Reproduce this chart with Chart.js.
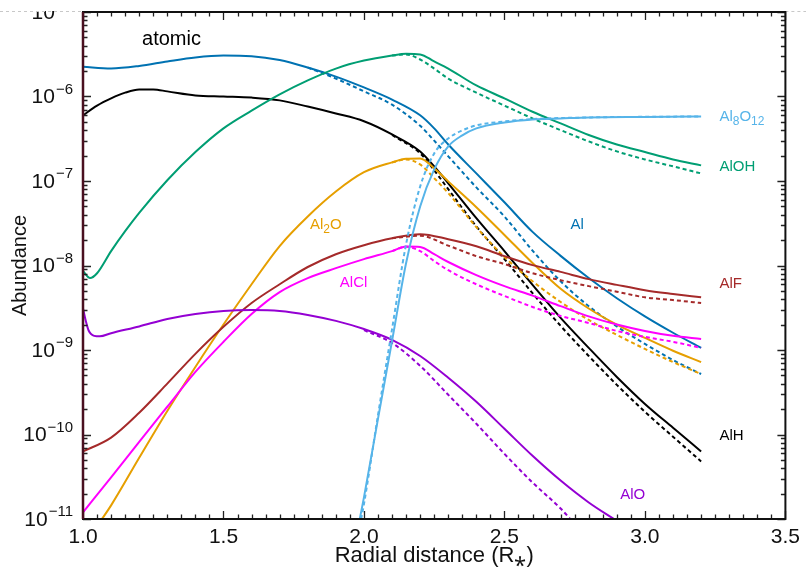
<!DOCTYPE html>
<html><head><meta charset="utf-8">
<script src="https://cdn.jsdelivr.net/npm/chart.js@4.4.0/dist/chart.umd.min.js"></script>
<style>html,body{margin:0;padding:0;background:#fff;}#wrap{width:806px;height:569px;}</style>
</head><body><div id="wrap"><canvas id="c" width="806" height="569"></canvas></div>
<script>
// ---------- data (abundance vs radial distance) ----------
const xAlSolid   = [1.0,1.1,1.2,1.3,1.4,1.5,1.6,1.7,1.8,1.9,2.0,2.1,2.2,2.25,2.3,2.4,2.5,2.6,2.7,2.8,2.9,3.0,3.1,3.2];
const alSolid    = [2.25e-6,2.15e-6,2.3e-6,2.6e-6,2.9e-6,3.05e-6,3.0e-6,2.7e-6,2.2e-6,1.72e-6,1.28e-6,9.2e-7,6.0e-7,4.2e-7,2.7e-7,1.23e-7,5.6e-8,2.5e-8,1.3e-8,7.1e-9,4.1e-9,2.5e-9,1.6e-9,1.06e-9];
const xAlDashed  = [1.8,1.9,2.0,2.1,2.2,2.25,2.3,2.4,2.5,2.6,2.7,2.8,2.9,3.0,3.1,3.2];
const alDashed   = [2.2e-6,1.63e-6,1.15e-6,8.0e-7,4.5e-7,3.0e-7,1.96e-7,8.4e-8,3.8e-8,1.5e-8,6.5e-9,3.3e-9,1.9e-9,1.18e-9,7.6e-10,5.2e-10];

const xAlHSolid  = [1.0,1.05,1.1,1.15,1.2,1.25,1.3,1.4,1.5,1.6,1.7,1.8,1.9,2.0,2.1,2.2,2.25,2.3,2.4,2.5,2.6,2.7,2.8,2.9,3.0,3.1,3.2];
const alhSolid   = [5.97e-7,7.8e-7,9.5e-7,1.11e-6,1.21e-6,1.21e-6,1.15e-6,1.03e-6,1.0e-6,9.7e-7,9.0e-7,7.6e-7,6.3e-7,5.1e-7,3.56e-7,2.24e-7,1.49e-7,9.4e-8,3.63e-8,1.48e-8,5.9e-9,2.4e-9,1.06e-9,4.8e-10,2.3e-10,1.2e-10,6.3e-11];
const xAlHDashed = [2.1,2.2,2.25,2.3,2.4,2.5,2.6,2.7,2.8,2.9,3.0,3.1,3.2];
const alhDashed  = [3.5e-7,2.13e-7,1.34e-7,8.0e-8,2.9e-8,1.19e-8,4.7e-9,1.93e-9,8.5e-10,3.87e-10,1.86e-10,9.4e-11,4.8e-11];

const xAlOHSolid = [1.0,1.025,1.05,1.1,1.15,1.2,1.3,1.4,1.5,1.6,1.7,1.8,1.9,2.0,2.1,2.15,2.2,2.25,2.3,2.4,2.5,2.6,2.7,2.8,2.9,3.0,3.1,3.2];
const alohSolid  = [8.6e-9,7.1e-9,8.1e-9,1.48e-8,2.55e-8,4.2e-8,1.02e-7,2.2e-7,4.2e-7,6.8e-7,1.06e-6,1.55e-6,2.14e-6,2.66e-6,3.05e-6,3.2e-6,3.15e-6,2.6e-6,2.14e-6,1.35e-6,9.5e-7,6.6e-7,4.8e-7,3.5e-7,2.7e-7,2.2e-7,1.8e-7,1.53e-7];
const xAlOHDashed= [2.1,2.15,2.2,2.25,2.3,2.4,2.5,2.6,2.7,2.8,2.9,3.0,3.1,3.2];
const alohDashed = [3.05e-6,3.15e-6,2.74e-6,2.14e-6,1.63e-6,1.11e-6,7.8e-7,5.5e-7,4.0e-7,2.94e-7,2.24e-7,1.8e-7,1.49e-7,1.23e-7];

const xAl8Solid  = [1.985,2.0,2.05,2.1,2.15,2.2,2.25,2.3,2.35,2.4,2.5,2.6,2.7,2.8,3.0,3.2];
const al8Solid   = [1.0e-11,1.8e-11,1.54e-10,1.28e-9,1.07e-8,5.0e-8,1.37e-7,2.57e-7,3.47e-7,4.19e-7,4.93e-7,5.35e-7,5.5e-7,5.65e-7,5.73e-7,5.8e-7];
const xAl8Dashed = [1.99,2.0,2.05,2.1,2.15,2.2,2.25,2.3,2.35,2.4,2.5,2.6,2.8,3.0,3.2];
const al8Dashed  = [1.0e-11,1.5e-11,1.7e-10,1.77e-9,1.79e-8,8.6e-8,2.12e-7,3.19e-7,3.97e-7,4.55e-7,5.07e-7,5.4e-7,5.65e-7,5.75e-7,5.8e-7];

const xAl2OSolid = [1.06,1.1,1.2,1.3,1.4,1.5,1.6,1.7,1.8,1.9,2.0,2.1,2.15,2.2,2.25,2.3,2.4,2.5,2.6,2.7,2.8,2.9,3.0,3.1,3.2];
const al2oSolid  = [9.2e-12,1.45e-11,5.3e-11,1.9e-10,6.3e-10,2.0e-9,6.0e-9,1.7e-8,3.8e-8,7.5e-8,1.27e-7,1.66e-7,1.83e-7,1.85e-7,1.41e-7,9.9e-8,4.9e-8,2.3e-8,1.07e-8,5.3e-9,3.1e-9,2.0e-9,1.39e-9,9.8e-10,7.2e-10];
const xAl2ODashed= [2.1,2.15,2.2,2.25,2.3,2.4,2.5,2.6,2.7,2.8,2.9,3.0,3.1,3.2];
const al2oDashed = [1.66e-7,1.8e-7,1.57e-7,1.08e-7,7.2e-8,2.84e-8,1.26e-8,6.5e-9,3.7e-9,2.27e-9,1.51e-9,1.03e-9,7.2e-10,5.2e-10];

const xAlFSolid  = [1.0,1.1,1.2,1.3,1.4,1.5,1.6,1.7,1.8,1.9,2.0,2.1,2.2,2.3,2.4,2.5,2.6,2.7,2.8,2.9,3.0,3.1,3.2];
const alfSolid   = [6.3e-11,9.2e-11,1.81e-10,4.0e-10,9.0e-10,1.88e-9,3.6e-9,6.0e-9,9.6e-9,1.36e-8,1.74e-8,2.1e-8,2.35e-8,2.05e-8,1.69e-8,1.29e-8,1.01e-8,8.4e-9,6.9e-9,5.9e-9,5.1e-9,4.6e-9,4.2e-9];
const xAlFDashed = [2.1,2.2,2.3,2.4,2.5,2.6,2.7,2.8,2.9,3.0,3.1,3.2];
const alfDashed  = [2.1e-8,2.25e-8,1.72e-8,1.29e-8,1.04e-8,8.1e-9,6.7e-9,5.7e-9,4.9e-9,4.2e-9,3.9e-9,3.6e-9];

const xAlClSolid = [1.0,1.1,1.2,1.3,1.4,1.5,1.6,1.7,1.8,1.9,2.0,2.1,2.15,2.2,2.25,2.3,2.4,2.5,2.6,2.7,2.8,2.9,3.0,3.1,3.2];
const alclSolid  = [1.2e-11,3.1e-11,8.2e-11,2.13e-10,5.5e-10,1.25e-9,2.67e-9,4.85e-9,7.1e-9,9.3e-9,1.19e-8,1.48e-8,1.68e-8,1.66e-8,1.36e-8,1.1e-8,7.7e-9,5.7e-9,4.4e-9,3.3e-9,2.5e-9,2.0e-9,1.68e-9,1.47e-9,1.35e-9];
const xAlClDashed= [2.1,2.15,2.2,2.25,2.3,2.4,2.5,2.6,2.7,2.8,2.9,3.0,3.1,3.2];
const alclDashed = [1.48e-8,1.67e-8,1.48e-8,1.13e-8,8.8e-9,6.0e-9,4.36e-9,3.23e-9,2.53e-9,2.09e-9,1.68e-9,1.43e-9,1.25e-9,1.06e-9];

const xAlOSolid  = [1.0,1.01,1.02,1.04,1.06,1.1,1.2,1.3,1.4,1.5,1.6,1.7,1.8,1.9,2.0,2.1,2.2,2.3,2.4,2.5,2.6,2.7,2.8,2.9];
const aloSolid   = [3.1e-9,2.2e-9,1.7e-9,1.47e-9,1.45e-9,1.58e-9,1.9e-9,2.33e-9,2.67e-9,2.9e-9,2.97e-9,2.9e-9,2.6e-9,2.21e-9,1.77e-9,1.32e-9,8.5e-10,4.7e-10,2.44e-10,1.17e-10,5.6e-11,2.85e-11,1.57e-11,9.5e-12];
const xAlODashed = [2.0,2.1,2.2,2.3,2.4,2.5,2.6,2.7,2.74];
const aloDashed  = [1.72e-9,1.21e-9,6.5e-10,2.95e-10,1.34e-10,5.9e-11,2.7e-11,1.33e-11,9.5e-12];

// ticks
const xTickLabels    = ['1.0','1.5','2.0','2.5','3.0','3.5'];
const yTickValues    = [1e-11,1e-10,1e-9,1e-8,1e-7,1e-6,1e-5];
const yTickExponents = ['\u221211','\u221210','\u22129','\u22128','\u22127','\u22126','\u22125'];

// ---------- styling ----------
const FONT = '"Liberation Sans", Arial, Helvetica, sans-serif';
const COL = {al:'#0072B2', aloh:'#009E73', al2o:'#E69F00', al8:'#56B4E9', alh:'#000000', alf:'#A52A2A', alcl:'#FF00FF', alo:'#9400D3'};

const pts = (xs, ys) => xs.map((x, i) => ({x, y: ys[i]}));
function ds(xs, ys, color, dashed) {
  return {data: pts(xs, ys), borderColor: color, borderWidth: 2, pointRadius: 0,
          borderDash: dashed ? [4, 3] : [], cubicInterpolationMode: 'monotone', fill: false};
}

// label anchors (data coordinates)
const speciesLabels = [
  {parts: [['Al',0],['8',1],['O',0],['12',1]], x: 3.265, y: 5.8e-7, color: COL.al8},
  {parts: [['AlOH',0]], x: 3.265, y: 1.49e-7, color: COL.aloh},
  {parts: [['Al',0]], x: 2.735, y: 3.0e-8, color: COL.al},
  {parts: [['AlF',0]], x: 3.265, y: 6.0e-9, color: COL.alf},
  {parts: [['AlH',0]], x: 3.265, y: 9.7e-11, color: COL.alh},
  {parts: [['AlO',0]], x: 2.912, y: 1.95e-11, color: COL.alo},
  {parts: [['Al',0],['2',1],['O',0]], x: 1.808, y: 3.0e-8, color: COL.al2o},
  {parts: [['AlCl',0]], x: 1.914, y: 6.2e-9, color: COL.alcl}
];

const framePlugin = {
  id: 'frame',
  afterDraw(chart) {
    const {ctx, chartArea: a, scales: {x, y}} = chart;
    ctx.save();
    // y tick labels 10^n
    ctx.textBaseline = 'middle'; ctx.textAlign = 'left'; ctx.fillStyle = '#111';
    yTickValues.forEach((v, i) => {
      const py = y.getPixelForValue(v);
      ctx.font = '21px ' + FONT; const w10 = ctx.measureText('10').width;
      ctx.font = '15px ' + FONT; const ws = ctx.measureText(yTickExponents[i]).width;
      const x0 = 73 - ws - w10 - 1;
      ctx.font = '21px ' + FONT; ctx.fillText('10', x0, py + 1);
      ctx.font = '15px ' + FONT; ctx.fillText(yTickExponents[i], x0 + w10 + 1, py - 7);
    });
    // species labels
    speciesLabels.forEach(l => {
      let px = x.getPixelForValue(l.x); const py = y.getPixelForValue(l.y);
      ctx.fillStyle = l.color;
      l.parts.forEach(([t, sub]) => {
        ctx.font = (sub ? '12px ' : '15px ') + FONT;
        ctx.fillText(t, px, sub ? py + 5 : py);
        px += ctx.measureText(t).width;
      });
    });
    ctx.fillStyle = '#000'; ctx.font = '20px ' + FONT; ctx.textAlign = 'center';
    ctx.fillText('atomic', x.getPixelForValue(1.315), y.getPixelForValue(4.7e-6));
    // top crop edge
    ctx.fillStyle = '#fff'; ctx.fillRect(0, 0, chart.width, a.top - 1);
    ctx.strokeStyle = '#c8c8c8'; ctx.lineWidth = 1; ctx.setLineDash([3, 3]);
    ctx.beginPath(); ctx.moveTo(0, a.top - 0.5); ctx.lineTo(a.left, a.top - 0.5);
    ctx.moveTo(a.right, a.top - 0.5); ctx.lineTo(chart.width, a.top - 0.5); ctx.stroke();
    ctx.setLineDash([]);
    // ticks (inward, all four sides)
    ctx.strokeStyle = '#222'; ctx.lineWidth = 1.3;
    ctx.beginPath();
    for (let i = 0; i <= 50; i++) {
      const v = 1 + i * 0.05; const px = Math.round(x.getPixelForValue(v)) + 0.5;
      const len = (i % 10 === 0) ? 8 : 4.5;
      ctx.moveTo(px, a.bottom); ctx.lineTo(px, a.bottom - len);
      ctx.moveTo(px, a.top); ctx.lineTo(px, a.top + len);
    }
    for (let p = -11; p <= -5; p++) {
      for (let k = 1; k <= 9; k++) {
        if (p === -5 && k > 1) break;
        const v = k * Math.pow(10, p);
        const py = Math.round(y.getPixelForValue(v)) + 0.5;
        const len = (k === 1) ? 8 : 4.5;
        ctx.moveTo(a.left, py); ctx.lineTo(a.left + len, py);
        ctx.moveTo(a.right, py); ctx.lineTo(a.right - len, py);
      }
    }
    ctx.stroke();
    // frame
    ctx.lineWidth = 2; ctx.strokeStyle = '#111';
    ctx.strokeRect(a.left, a.top, a.right - a.left, a.bottom - a.top);
    ctx.strokeStyle = '#4a1020'; ctx.lineWidth = 2.5;
    ctx.beginPath(); ctx.moveTo(a.left, a.top); ctx.lineTo(a.left, a.bottom); ctx.stroke();
    ctx.restore();
  }
};

Chart.defaults.font.family = FONT;
new Chart(document.getElementById('c'), {
  type: 'line',
  data: {datasets: [
    ds(xAl8Solid, al8Solid, COL.al8, false), ds(xAl8Dashed, al8Dashed, COL.al8, true),
    ds(xAlOSolid, aloSolid, COL.alo, false), ds(xAlODashed, aloDashed, COL.alo, true),
    ds(xAlClSolid, alclSolid, COL.alcl, false), ds(xAlClDashed, alclDashed, COL.alcl, true),
    ds(xAlFSolid, alfSolid, COL.alf, false), ds(xAlFDashed, alfDashed, COL.alf, true),
    ds(xAl2OSolid, al2oSolid, COL.al2o, false), ds(xAl2ODashed, al2oDashed, COL.al2o, true),
    ds(xAlOHSolid, alohSolid, COL.aloh, false), ds(xAlOHDashed, alohDashed, COL.aloh, true),
    ds(xAlSolid, alSolid, COL.al, false), ds(xAlDashed, alDashed, COL.al, true),
    ds(xAlHSolid, alhSolid, COL.alh, false), ds(xAlHDashed, alhDashed, COL.alh, true)
  ]},
  options: {
    responsive: false, animation: false, devicePixelRatio: 1,
    layout: {padding: {top: 12, right: 16, left: 0, bottom: 0}},
    plugins: {legend: {display: false}, tooltip: {enabled: false}},
    scales: {
      x: {type: 'linear', min: 1, max: 3.5,
          grid: {display: false, drawTicks: false}, border: {display: false},
          ticks: {stepSize: 0.5, padding: 6, color: '#111', font: {size: 21},
                  callback: (v) => xTickLabels[Math.round((v - 1) / 0.5)]},
          title: {display: true, text: 'Radial distance (R\u204E)', color: '#111', font: {size: 22}, padding: {top: 0, bottom: 0}},
          afterFit: (s) => { s.height = 50; }},
      y: {type: 'logarithmic', min: 1e-11, max: 1e-5,
          grid: {display: false, drawTicks: false}, border: {display: false},
          ticks: {display: false},
          title: {display: true, text: 'Abundance', color: '#111', font: {size: 20}, padding: {top: 8, bottom: 0}},
          afterFit: (s) => { s.width = 83; }}
    }
  },
  plugins: [framePlugin]
});
</script></body></html>
